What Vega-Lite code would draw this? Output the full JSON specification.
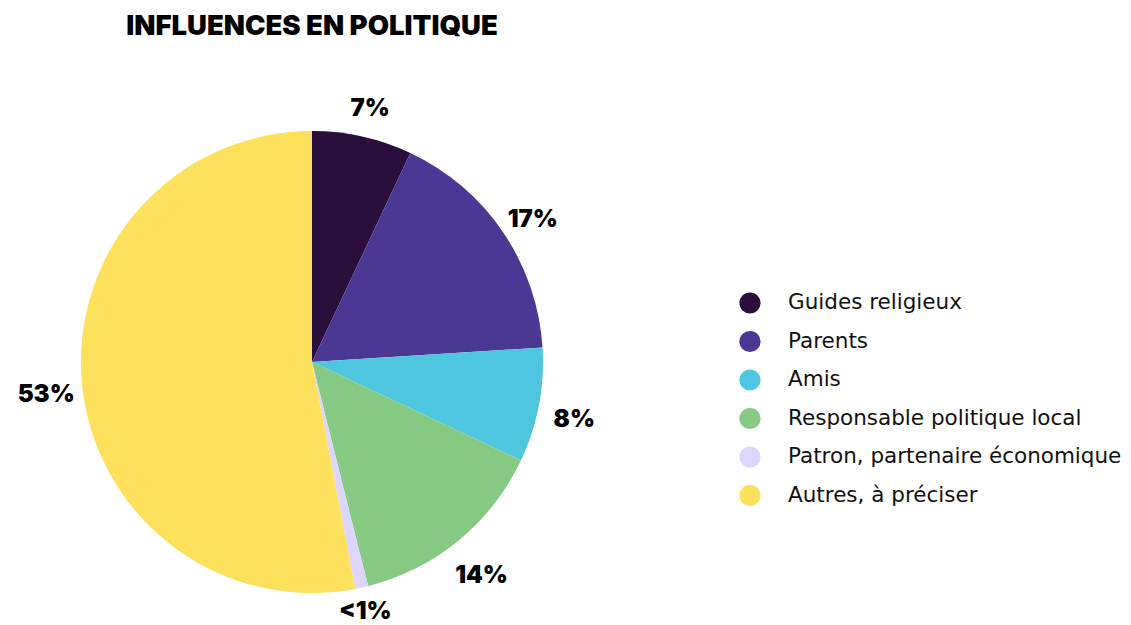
{
  "$schema": "https://vega.github.io/schema/vega-lite/v6.json",
  "width": 624,
  "height": 524,
  "autosize": {"type": "none"},
  "padding": {"left": 0, "top": 100, "right": 507, "bottom": 1},
  "title": {
    "text": "INFLUENCES EN POLITIQUE",
    "font": "Inter",
    "fontSize": 27.5,
    "fontWeight": 900,
    "color": "#000000",
    "anchor": "middle",
    "offset": 57
  },
  "config": {"view": {"stroke": null}},
  "data": {
    "values": [
      {"cat": "Guides religieux", "value": 7, "label": "7%", "ord": 1},
      {"cat": "Parents", "value": 17, "label": "17%", "ord": 2},
      {"cat": "Amis", "value": 8, "label": "8%", "ord": 3},
      {"cat": "Responsable politique local", "value": 14.1, "label": "14%", "ord": 4},
      {"cat": "Patron, partenaire économique", "value": 0.9, "label": "<1%", "ord": 5},
      {"cat": "Autres, à préciser", "value": 53, "label": "53%", "ord": 6}
    ]
  },
  "encoding": {
    "theta": {"field": "value", "type": "quantitative", "stack": true},
    "order": {"field": "ord", "type": "quantitative"},
    "color": {
      "field": "cat",
      "type": "nominal",
      "sort": null,
      "scale": {
        "domain": ["Guides religieux", "Parents", "Amis", "Responsable politique local", "Patron, partenaire économique", "Autres, à préciser"],
        "range": ["#2a0f3d", "#4b3894", "#4fc6df", "#86c983", "#ddd5fb", "#fde05c"]
      },
      "legend": {
        "title": null,
        "orient": "none",
        "legendX": 739,
        "legendY": 192,
        "padding": 0,
        "symbolType": "circle",
        "symbolSize": 450,
        "symbolStrokeWidth": 0,
        "labelFont": "DejaVu Sans",
        "labelFontSize": 21.5,
        "labelColor": "#111111",
        "labelOffset": 27,
        "rowPadding": 16.5,
        "labelLimit": 400
      }
    }
  },
  "layer": [
    {"mark": {"type": "arc", "outerRadius": 231, "stroke": null}},
    {
      "mark": {"type": "text", "radius": 267, "dy": 8, "font": "Inter", "fontSize": 24, "fontWeight": 900, "color": "#000000", "align": "center", "baseline": "middle"},
      "encoding": {
        "text": {"condition": {"test": "datum.ord != 5", "field": "label"}, "value": ""},
        "color": {"value": "#000000"}
      }
    },
    {
      "mark": {"type": "text", "radius": 248, "dy": 8, "font": "Inter", "fontSize": 24, "fontWeight": 900, "color": "#000000", "align": "center", "baseline": "middle"},
      "encoding": {
        "text": {"condition": {"test": "datum.ord == 5", "field": "label"}, "value": ""},
        "color": {"value": "#000000"}
      }
    }
  ]
}
